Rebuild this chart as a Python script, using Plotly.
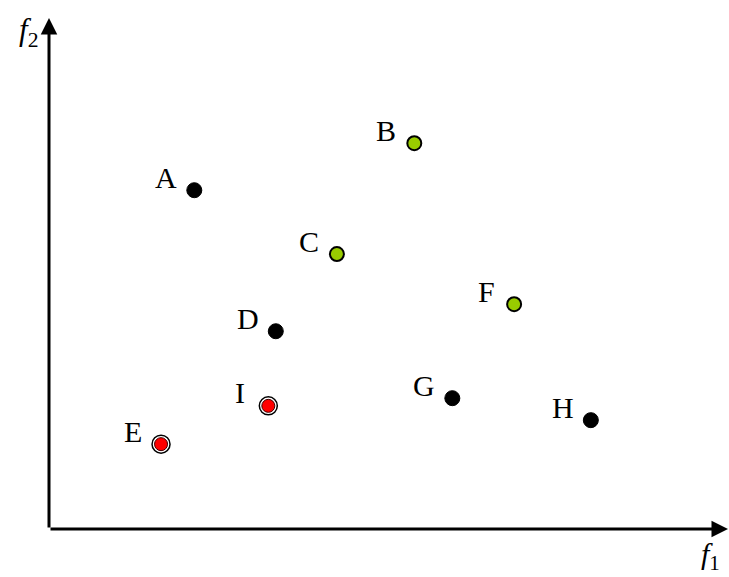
import plotly.graph_objects as go

# point data (f1, f2) in arbitrary units, axes run 0..10
black_names = ["A", "D", "G", "H"]
black_f1 = [2.14, 3.34, 5.94, 7.98]
black_f2 = [6.63, 3.87, 2.56, 2.13]

green_names = ["B", "C", "F"]
green_f1 = [5.38, 4.24, 6.85]
green_f2 = [7.55, 5.38, 4.40]

red_names = ["E", "I"]
red_f1 = [1.65, 3.23]
red_f2 = [1.66, 2.41]

SERIF = "Times New Roman, Liberation Serif, serif"

fig = go.Figure()

fig.add_trace(go.Scatter(
    x=black_f1, y=black_f2, mode="markers",
    marker=dict(size=15, color="black", line=dict(color="black", width=1)),
    hoverinfo="skip", showlegend=False
))
fig.add_trace(go.Scatter(
    x=green_f1, y=green_f2, mode="markers",
    marker=dict(size=14, color="#99cc00", line=dict(color="black", width=2)),
    hoverinfo="skip", showlegend=False
))
# red points: black ring, white gap, red core
fig.add_trace(go.Scatter(
    x=red_f1, y=red_f2, mode="markers",
    marker=dict(size=18, color="white", line=dict(color="black", width=1.5)),
    hoverinfo="skip", showlegend=False
))
fig.add_trace(go.Scatter(
    x=red_f1, y=red_f2, mode="markers",
    marker=dict(size=13, color="#ff0000", line=dict(color="#400000", width=1)),
    hoverinfo="skip", showlegend=False
))

# point labels, up and left of each point
for names, xs, ys in [(black_names, black_f1, black_f2),
                      (green_names, green_f1, green_f2),
                      (red_names, red_f1, red_f2)]:
    for n, x, y in zip(names, xs, ys):
        fig.add_annotation(
            x=x, y=y, text=n, showarrow=False,
            xshift=-28, yshift=13,
            font=dict(family=SERIF, size=30, color="black")
        )

# axes with arrow heads
fig.add_annotation(
    x=1, y=0, ax=0, ay=0,
    xref="x domain", yref="y domain", axref="x domain", ayref="y domain",
    text="", showarrow=True, arrowhead=2, arrowsize=1.1, arrowwidth=3,
    arrowcolor="black"
)
fig.add_annotation(
    x=0, y=1, ax=0, ay=0,
    xref="x domain", yref="y domain", axref="x domain", ayref="y domain",
    text="", showarrow=True, arrowhead=2, arrowsize=1.1, arrowwidth=3,
    arrowcolor="black"
)

# axis titles
fig.add_annotation(
    x=1, y=0, xref="x domain", yref="y domain",
    text="<i>f</i><sub>1</sub>", showarrow=False,
    xanchor="right", yanchor="top", xshift=-6, yshift=-6,
    font=dict(family=SERIF, size=30, color="black")
)
fig.add_annotation(
    x=0, y=1, xref="x domain", yref="y domain",
    text="<i>f</i><sub>2</sub>", showarrow=False,
    xanchor="right", yanchor="top", xshift=-9, yshift=8,
    font=dict(family=SERIF, size=31, color="black")
)

fig.update_xaxes(range=[0, 10], showgrid=False, zeroline=False,
                 showticklabels=False, ticks="", showline=False)
fig.update_yaxes(range=[0, 10], showgrid=False, zeroline=False,
                 showticklabels=False, ticks="", showline=False)

fig.update_layout(
    width=729, height=577,
    margin=dict(l=49, r=1, t=18, b=48),
    plot_bgcolor="white", paper_bgcolor="white",
    showlegend=False
)

# page body has a default 8px margin; drop it so the figure fills the window
fig.write_html("out.html", config={"displayModeBar": False},
               post_script="document.body.style.margin='0';")
